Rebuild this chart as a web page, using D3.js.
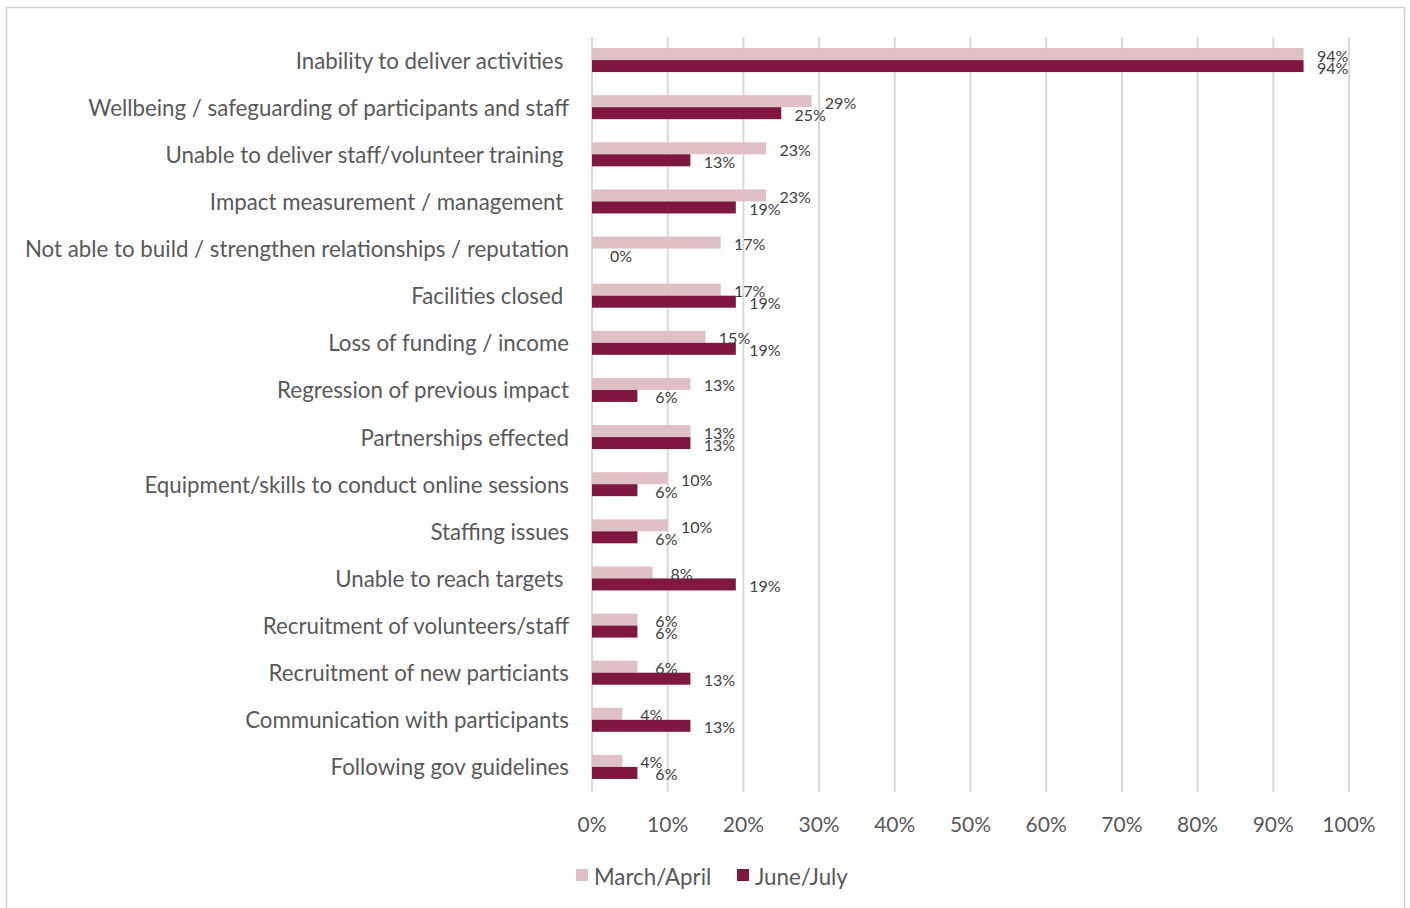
<!DOCTYPE html>
<meta charset="utf-8">
<style>
  body { margin: 0; background: #fff; }
  svg text { font-family: Lato, "Open Sans", sans-serif; }
  .cat { fill: #595959; font-size: 22.3px; white-space: pre; }
  .tick-lbl { fill: #595959; font-size: 21px; }
  .val { fill: #404040; font-size: 16px; }
  .legend text { fill: #595959; font-size: 22.3px; }
</style>
<svg width="1410" height="908"></svg>
<script src="https://d3js.org/d3.v7.min.js"></script>
<script>

// categories, top to bottom (trailing spaces kept as in the source chart)
var categories = [
  "Inability to deliver activities ",
  "Wellbeing / safeguarding of participants and staff",
  "Unable to deliver staff/volunteer training ",
  "Impact measurement / management ",
  "Not able to build / strengthen relationships / reputation",
  "Facilities closed ",
  "Loss of funding / income",
  "Regression of previous impact",
  "Partnerships effected",
  "Equipment/skills to conduct online sessions",
  "Staffing issues",
  "Unable to reach targets ",
  "Recruitment of volunteers/staff",
  "Recruitment of new particiants",
  "Communication with participants",
  "Following gov guidelines"
];

var seriesNames = ["March/April", "June/July"];
var seriesColors = ["#dfc0c4", "#7f1741"];

var marchApril = [94, 29, 23, 23, 17, 17, 15, 13, 13, 10, 10, 8, 6, 6, 4, 4];
var juneJuly   = [94, 25, 13, 19, 0, 19, 19, 6, 13, 6, 6, 19, 6, 13, 13, 6];

var xTicks = [0, 10, 20, 30, 40, 50, 60, 70, 80, 90, 100];

var svg = d3.select("svg");

// outer frame
svg.append("rect")
    .attr("x", 6.5).attr("y", 7.5)
    .attr("width", 1398).attr("height", 940)
    .attr("fill", "none")
    .attr("stroke", "#d0d0d0")
    .attr("stroke-width", 1.5);

var x = d3.scaleLinear().domain([0, 100]).range([592, 1349]);

var y0 = d3.scaleBand().domain(categories).range([36.5, 790.5]);

var groupH = 24;
var y1 = d3.scaleBand().domain(seriesNames).range([0, groupH]);

// gridlines
svg.append("g")
  .selectAll("line")
  .data(xTicks)
  .enter().append("line")
    .attr("x1", function(d) { return x(d); })
    .attr("x2", function(d) { return x(d); })
    .attr("y1", 37)
    .attr("y2", 792)
    .attr("stroke", "#d9d9d9")
    .attr("stroke-width", 2);

// tick labels
svg.append("g")
  .selectAll("text")
  .data(xTicks)
  .enter().append("text")
    .attr("class", "tick-lbl")
    .attr("x", function(d) { return x(d); })
    .attr("y", 823)
    .attr("text-anchor", "middle")
    .attr("dominant-baseline", "central")
    .text(function(d) { return d + "%"; });

// category labels
svg.append("g")
  .selectAll("text")
  .data(categories)
  .enter().append("text")
    .attr("class", "cat")
    .attr("x", 569)
    .attr("y", function(d) { return y0(d) + y0.bandwidth() / 2; })
    .attr("text-anchor", "end")
    .attr("dominant-baseline", "central")
    .text(function(d) { return d; });

var rows = categories.map(function(c, i) {
  return { cat: c, values: [marchApril[i], juneJuly[i]] };
});

var groups = svg.append("g")
  .selectAll("g")
  .data(rows)
  .enter().append("g")
    .attr("transform", function(d) {
      return "translate(0," + (y0(d.cat) + (y0.bandwidth() - groupH) / 2) + ")";
    });

groups.selectAll("rect")
  .data(function(d) { return d.values.map(function(v, j) { return { s: seriesNames[j], v: v, j: j }; }); })
  .enter().append("rect")
    .attr("x", x(0))
    .attr("y", function(d) { return y1(d.s); })
    .attr("width", function(d) { return x(d.v) - x(0); })
    .attr("height", y1.bandwidth())
    .attr("fill", function(d) { return seriesColors[d.j]; });

groups.selectAll("text")
  .data(function(d) { return d.values.map(function(v, j) { return { s: seriesNames[j], v: v }; }); })
  .enter().append("text")
    .attr("class", "val")
    .attr("x", function(d) { return x(d.v) + 29; })
    .attr("y", function(d) { return y1(d.s) + y1.bandwidth() / 2 + 1; })
    .attr("text-anchor", "middle")
    .attr("dominant-baseline", "central")
    .text(function(d) { return d.v + "%"; });

// legend
var legend = svg.append("g").attr("class", "legend");
var legendX = [576, 737];
seriesNames.forEach(function(name, i) {
  legend.append("rect")
      .attr("x", legendX[i]).attr("y", 869)
      .attr("width", 12).attr("height", 12)
      .attr("fill", seriesColors[i]);
  legend.append("text")
      .attr("x", legendX[i] + 18)
      .attr("y", 876)
      .attr("dominant-baseline", "central")
      .text(name);
});

</script>
